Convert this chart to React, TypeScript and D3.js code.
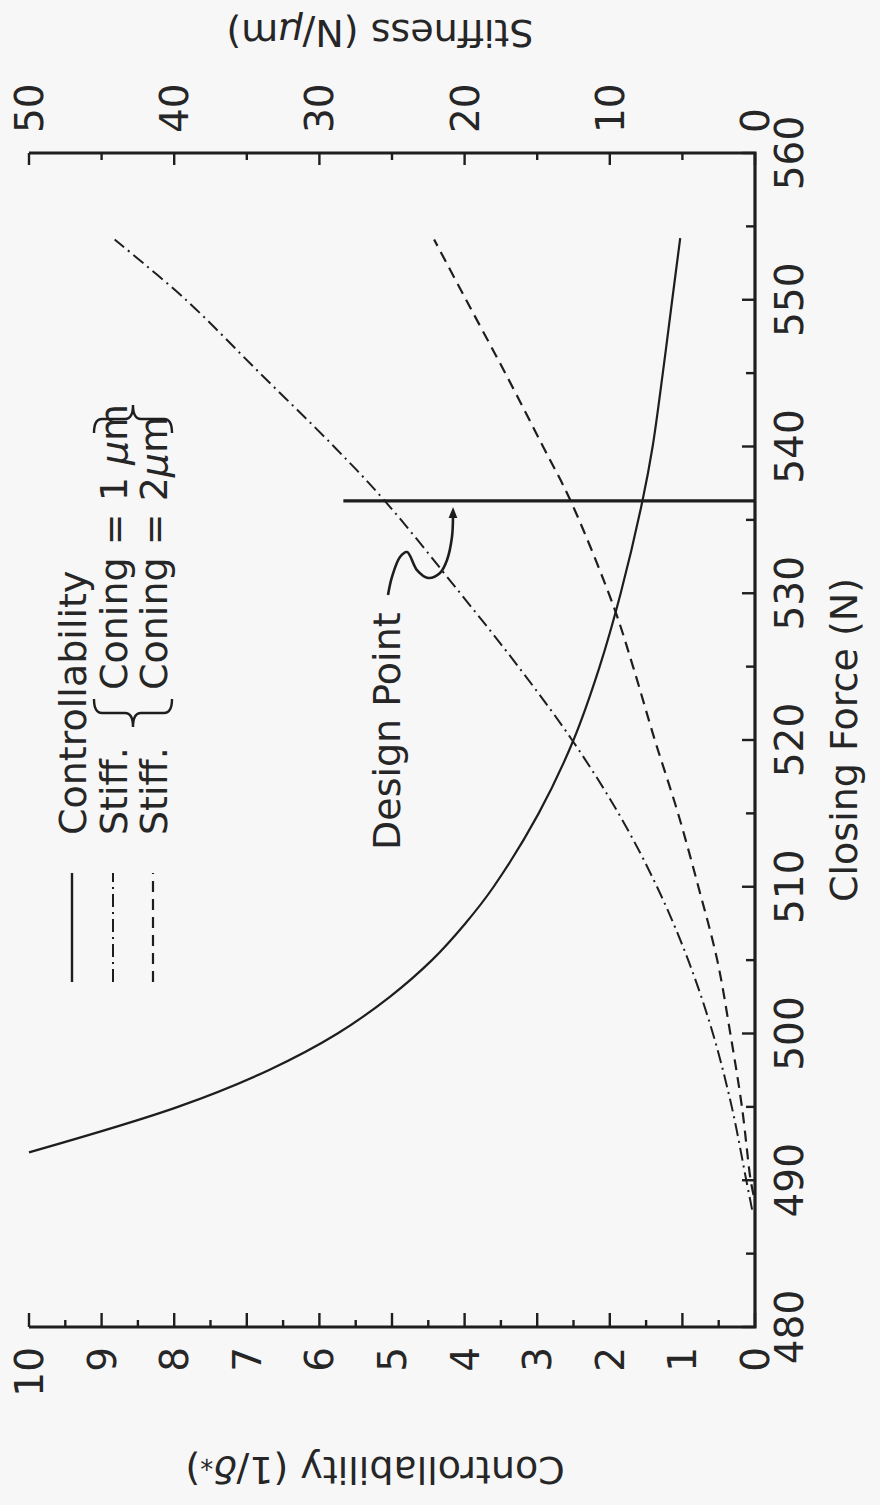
import React from 'react';
import * as d3 from 'd3';

// axis ticks
const forceTicks = [480, 490, 500, 510, 520, 530, 540, 550, 560];
const controlTicks = [0, 1, 2, 3, 4, 5, 6, 7, 8, 9, 10];
const stiffTicks = [0, 10, 20, 30, 40, 50];

// Controllability (1/delta*) vs closing force
const controlForce = [491.9, 495, 497.5, 500, 502.5, 505, 507.5, 510, 515, 520, 525, 530, 536.3, 540, 545, 550, 554.2];
const controlValues = [10.0, 7.95, 6.7, 5.75, 5.03, 4.45, 3.99, 3.6, 2.98, 2.5, 2.14, 1.85, 1.55, 1.41, 1.27, 1.14, 1.03];

// Stiffness, coning = 1 um
const coning1Force = [488, 490, 495, 500, 505, 510, 515, 520, 525, 530, 536.3, 540, 545, 550, 554.1];
const coning1Stiff = [0.2, 0.6, 1.6, 2.9, 4.6, 6.75, 9.4, 12.6, 16.3, 20.3, 25.5, 29.0, 34.1, 39.2, 44.1];

// Stiffness, coning = 2 um
const coning2Force = [489, 490, 495, 500, 505, 510, 515, 520, 525, 529, 536.3, 540, 545, 550, 554.1];
const coning2Stiff = [0.1, 0.3, 0.9, 1.7, 2.6, 3.9, 5.3, 6.9, 8.4, 9.7, 12.7, 14.6, 17.2, 19.9, 22.1];

// design point marker
const designForce = 536.3;
const designReach = 5.67;
const arrowForce = [529.88, 531.11, 532.47, 532.81, 531.58, 531.04, 531.38, 532.27, 533.83, 535.2];
const arrowControl = [5.055, 5.0, 4.89, 4.793, 4.656, 4.504, 4.339, 4.242, 4.174, 4.16];

const W = 880;
const H = 1505;
const ink = '#1e1e1e';
const font = '"DejaVu Sans", sans-serif';

function brace(u0: number, u1: number, vTop: number, vBot: number, open: boolean) {
  // u0..u1 is the width of the brace, tip points left when open
  const tip = open ? u0 : u1;
  const end = open ? u1 : u0;
  const mid = (u0 + u1) / 2;
  const vm = (vTop + vBot) / 2;
  const p = d3.path();
  p.moveTo(end, vTop);
  p.quadraticCurveTo(mid, vTop, mid, vTop + 8);
  p.lineTo(mid, vm - 8);
  p.quadraticCurveTo(mid, vm, tip, vm);
  p.quadraticCurveTo(mid, vm, mid, vm + 8);
  p.lineTo(mid, vBot - 8);
  p.quadraticCurveTo(mid, vBot, end, vBot);
  return p.toString();
}

export default function App() {
  // chart is drawn upright, then the whole group is turned a quarter counter-clockwise
  const x = d3.scaleLinear().domain([480, 560]).range([178, 1352]);
  const yC = d3.scaleLinear().domain([0, 10]).range([755, 29]);
  const yS = d3.scaleLinear().domain([0, 50]).range([755, 29]);

  const smooth = d3.curveCatmullRom.alpha(0.5);
  const lineControl = d3
    .line<number>()
    .x((d, i) => x(controlForce[i]))
    .y((d) => yC(d))
    .curve(smooth);
  const lineStiff1 = d3
    .line<number>()
    .x((d, i) => x(coning1Force[i]))
    .y((d) => yS(d))
    .curve(smooth);
  const lineStiff2 = d3
    .line<number>()
    .x((d, i) => x(coning2Force[i]))
    .y((d) => yS(d))
    .curve(smooth);
  const lineArrow = d3
    .line<number>()
    .x((d, i) => x(arrowForce[i]))
    .y((d) => yC(d))
    .curve(d3.curveCatmullRom);

  const [u0, u1] = x.range();
  const v0 = yC(0);
  const v1 = yC(10);

  const forceMinor = d3.range(480, 561, 5);
  const controlMinor = d3.range(0, 10.01, 0.5);
  const stiffMinor = d3.range(0, 50.01, 5);

  return (
    <svg
      width={W}
      height={H}
      style={{ position: 'absolute', left: 0, top: 0, background: '#f7f7f7' }}
      fontFamily={font}
    >
      <defs>
        <marker id="head" viewBox="0 0 10 10" refX="1" refY="5" markerWidth="15" markerHeight="11" markerUnits="userSpaceOnUse" orient="auto">
          <path d="M0,1 L10,5 L0,9 Z" fill={ink} />
        </marker>
      </defs>
      <rect width={W} height={H} fill="#f7f7f7" />
      <g transform={`translate(0,${H}) rotate(-90)`} fill="#262626">
        {/* frame: force axis (bottom), controllability (left), stiffness (right) */}
        <path d={`M${u0},${v1} L${u0},${v0} L${u1},${v0} L${u1},${v1}`} fill="none" stroke={ink} strokeWidth={3.2} />

        {forceMinor.map((t) => (
          <line key={'f' + t} x1={x(t)} x2={x(t)} y1={v0} y2={v0 - (t % 10 === 0 ? 13 : 9)} stroke={ink} strokeWidth={2.4} />
        ))}
        {forceTicks.map((t) => (
          <text key={'fl' + t} x={x(t)} y={803} textAnchor="middle" fontSize={39}>
            {t}
          </text>
        ))}

        {controlMinor.map((t) => (
          <line key={'c' + t} x1={u0} x2={u0 + (t % 1 === 0 ? 14 : 7)} y1={yC(t)} y2={yC(t)} stroke={ink} strokeWidth={2.4} />
        ))}
        {controlTicks.map((t) => (
          <text key={'cl' + t} x={158} y={yC(t)} dy="0.36em" textAnchor="end" fontSize={39}>
            {t}
          </text>
        ))}

        {stiffMinor.map((t) => (
          <line key={'s' + t} x1={u1} x2={u1 - (t % 10 === 0 ? 12 : 7)} y1={yS(t)} y2={yS(t)} stroke={ink} strokeWidth={2.4} />
        ))}
        {stiffTicks.map((t) => (
          <text key={'sl' + t} x={1372} y={yS(t)} dy="0.36em" textAnchor="start" fontSize={39}>
            {t}
          </text>
        ))}

        {/* axis titles */}
        <text x={(u0 + u1) / 2} y={857} textAnchor="middle" fontSize={38}>
          Closing Force (N)
        </text>
        <text transform={`translate(48,375) rotate(-90)`} textAnchor="middle" fontSize={38}>
          Controllability (1/<tspan fontStyle="italic">δ</tspan>
          <tspan fontSize={26} dy={6}>*</tspan>
          <tspan dy={-6}>)</tspan>
        </text>
        <text transform={`translate(1485,380) rotate(-90)`} textAnchor="middle" fontSize={38}>
          Stiffness (N/<tspan fontStyle="italic">μ</tspan>m)
        </text>

        {/* curves */}
        <path d={lineControl(controlValues) || ''} fill="none" stroke={ink} strokeWidth={2.2} />
        <path d={lineStiff1(coning1Stiff) || ''} fill="none" stroke={ink} strokeWidth={2} strokeDasharray="13 5 2 5" />
        <path d={lineStiff2(coning2Stiff) || ''} fill="none" stroke={ink} strokeWidth={2.2} strokeDasharray="11 7" />

        {/* design point */}
        <line x1={x(designForce)} x2={x(designForce)} y1={yC(0)} y2={yC(designReach)} stroke={ink} strokeWidth={3.2} />
        <path d={lineArrow(arrowControl) || ''} fill="none" stroke={ink} strokeWidth={2.6} markerEnd="url(#head)" />
        <text x={655} y={400} fontSize={38}>
          Design Point
        </text>

        {/* legend */}
        <line x1={523} x2={632} y1={72} y2={72} stroke={ink} strokeWidth={2.4} />
        <line x1={523} x2={632} y1={113} y2={113} stroke={ink} strokeWidth={2} strokeDasharray="13 5 2 5" />
        <line x1={523} x2={632} y1={153} y2={153} stroke={ink} strokeWidth={2.2} strokeDasharray="11 7" />
        <text x={670} y={86} fontSize={38}>
          Controllability
        </text>
        <text x={670} y={127} fontSize={38}>
          Stiff.
        </text>
        <text x={670} y={167} fontSize={38}>
          Stiff.
        </text>
        <path d={brace(778, 806, 94, 172, true)} fill="none" stroke={ink} strokeWidth={2.4} />
        <text x={815} y={127} fontSize={38}>
          Coning = 1 <tspan fontStyle="italic">μ</tspan>m
        </text>
        <text x={815} y={167} fontSize={38}>
          Coning = 2<tspan fontStyle="italic">μ</tspan>m
        </text>
        <path d={brace(1072, 1100, 94, 172, false)} fill="none" stroke={ink} strokeWidth={2.4} />
      </g>
    </svg>
  );
}
